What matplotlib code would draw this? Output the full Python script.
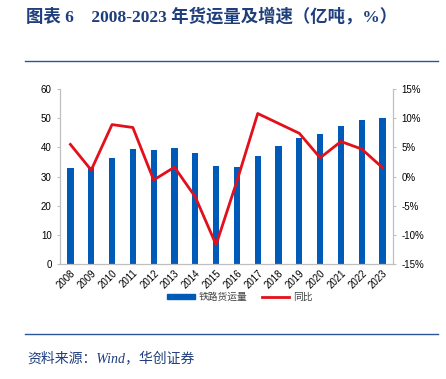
import numpy as np
import matplotlib
matplotlib.use('Agg')
import matplotlib.pyplot as plt
from matplotlib.lines import Line2D
from matplotlib.patches import Patch

plt.rcParams['font.family'] = ['Liberation Sans', 'Noto Sans CJK SC', 'DejaVu Sans']

years = ['2008', '2009', '2010', '2011', '2012', '2013', '2014', '2015',
         '2016', '2017', '2018', '2019', '2020', '2021', '2022', '2023']
volume = [33.0, 33.3, 36.4, 39.3, 39.0, 39.7, 38.1, 33.6,
          33.3, 36.9, 40.3, 43.2, 44.6, 47.2, 49.4, 50.1]
growth = [5.5, 1.1, 8.9, 8.4, -0.6, 1.6, -3.5, -11.7,
          -0.8, 10.8, 9.1, 7.4, 3.2, 6.0, 4.7, 1.5]

blue = '#005BB8'
red = '#E30F1B'
navy = '#1F3E7C'
grey = '#BFBFBF'

fig = plt.figure(figsize=(4.46, 3.79), dpi=100)
ax = fig.add_axes([60/446, 1-264/379, 333/446, 175/379])
x = np.arange(len(years))
ax.bar(x, volume, width=0.3, color=blue, zorder=2)
ax.set_xlim(-0.5, len(years)-0.5)
ax.set_ylim(0, 60)
ax.set_yticks(range(0, 61, 10))
ax.set_xticks(x)
ax.set_xticklabels(years, rotation=45, ha='right', rotation_mode='anchor', fontsize=7)
ax.tick_params(axis='y', labelsize=7, length=2, color=grey, pad=4)
ax.tick_params(axis='x', length=0, pad=3)

ax2 = ax.twinx()
ax2.plot(x, growth, color=red, lw=2, zorder=3)
ax2.set_ylim(-15, 15)
ax2.set_yticks(range(-15, 16, 5))
ax2.set_yticklabels([f'{v}%' for v in range(-15, 16, 5)])
ax2.tick_params(axis='y', labelsize=7, length=2, color=grey, pad=4)

for a in (ax, ax2):
    a.spines['top'].set_visible(False)
    for s in ('left', 'right', 'bottom'):
        a.spines[s].set_color(grey)

handles = [Patch(color=blue), Line2D([0], [0], color=red, lw=2)]
fig.legend(handles, ['铁路货运量', '同比'], loc='center', bbox_to_anchor=(240/446, 1-297/379),
           ncol=2, frameon=False, fontsize=7, handlelength=2.8, handleheight=0.5,
           columnspacing=1.5, handletextpad=0.4, labelcolor='#404040')

fig.text(26/446, 1-17/379, '图表 6    2008-2023 年货运量及增速（亿吨，%）', fontsize=12.5,
         fontweight='bold', color=navy, va='center', ha='left',
         family=['Liberation Serif', 'Noto Sans CJK SC'])
fig.add_artist(Line2D([25/446, 438/446], [1-61/379, 1-61/379], color='#2E5597', lw=1))
fig.add_artist(Line2D([25/446, 438/446], [1-334/379, 1-334/379], color='#2E5597', lw=1))
fig.text(27/446, 1-358/379, '资料来源：Wind，华创证券', fontsize=10, style='italic',
         color=navy, va='center', ha='left', family=['Liberation Serif', 'Noto Sans CJK SC'])

fig.savefig('out.png', dpi=100)
